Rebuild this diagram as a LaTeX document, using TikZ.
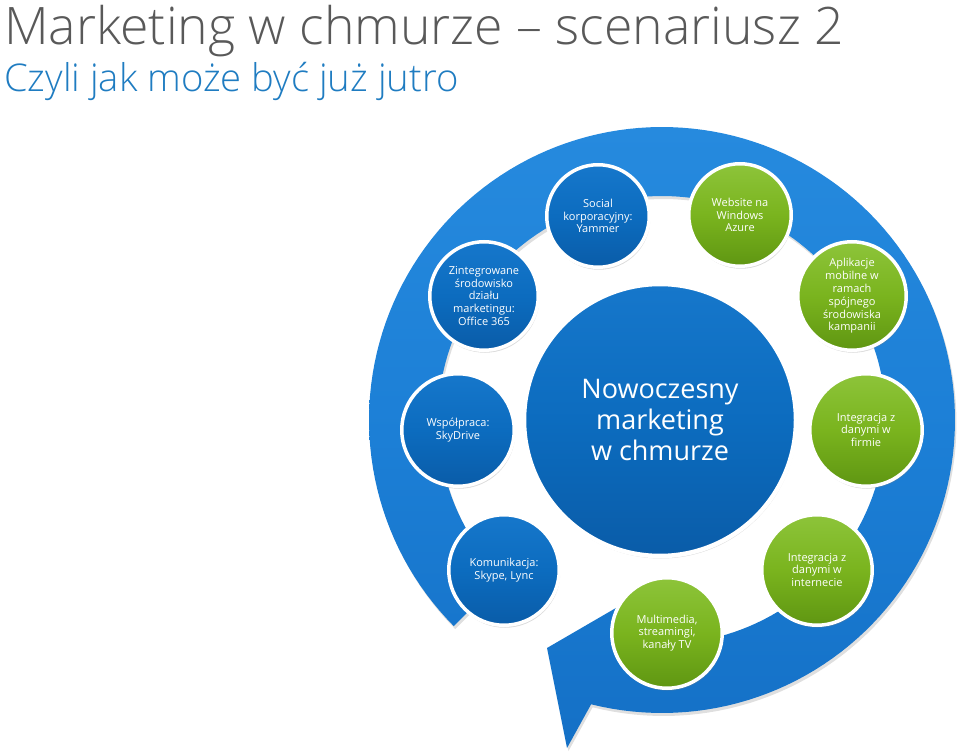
\documentclass[tikz,border=0pt]{standalone}
\usepackage{fontspec}
\setmainfont{Open Sans}
\IfFontExistsTF{Open Sans Light}{\newfontfamily\titlefont{Open Sans Light}}{%
  \IfFontExistsTF{Lato Light}{\newfontfamily\titlefont{Lato Light}}{\newfontfamily\titlefont{Open Sans}}}
\usetikzlibrary{shadows}
\definecolor{ringblue}{HTML}{1C7FD6}
\definecolor{ringtop}{HTML}{268ADE}
\definecolor{ringbot}{HTML}{1470C6}
\definecolor{cblueT}{HTML}{1677CB}
\definecolor{cblueM}{HTML}{0C6CBF}
\definecolor{cblueB}{HTML}{0A5CA8}
\definecolor{cgreenT}{HTML}{8DC43A}
\definecolor{cgreenM}{HTML}{7AB41E}
\definecolor{cgreenB}{HTML}{5F9612}
\definecolor{titlegray}{HTML}{595959}
\definecolor{subblue}{HTML}{1F7CC1}
\begin{document}
\begin{tikzpicture}[x=1pt,y=-1pt,
  bubble/.style={circle, draw=white, line width=3.5pt, text=white, align=center,
    font=\fontsize{11}{12.8}\selectfont, inner sep=0pt,
    drop shadow={opacity=0.28, shadow xshift=1pt, shadow yshift=-2.5pt}},
  bluebub/.style={bubble, top color=cblueT, bottom color=cblueB, middle color=cblueM},
  greenbub/.style={bubble, top color=cgreenT, bottom color=cgreenB, middle color=cgreenM},
  ringstyle/.style={top color=ringtop, bottom color=ringbot, middle color=ringblue,
    drop shadow={opacity=0.25, shadow xshift=1.5pt, shadow yshift=-3pt}},
]
\useasboundingbox (0,0) rectangle (959,754);

% titles
\node[anchor=base west, inner sep=0pt, text=titlegray, font=\titlefont\fontsize{51.7}{52}\selectfont] (title) at (4,45) {Marketing w chmurze – scenariusz 2};
\node[anchor=base west, inner sep=0pt, text=subblue, font=\titlefont\fontsize{38.2}{38}\selectfont] (subtitle) at (4,92) {Czyli jak może być już jutro};

% circular arrow
\path[ringstyle]
  plot[domain=135.3:464, samples=160] ({662+293*cos(\x)},{420+293*sin(\x)})
  -- (567,748) -- (547,648) -- (640,594)
  -- plot[domain=462:135.3, samples=160] ({662+224*cos(\x)},{420+224*sin(\x)})
  -- cycle;

% centre
\node[bluebub, line width=4.5pt, minimum size=272pt, font=\fontsize{27}{31}\selectfont] (core) at (660,420) {Nowoczesny\\marketing\\w chmurze};

% satellites
\node[bluebub, minimum size=108.5pt] (office) at (484,296) {Zintegrowane\\środowisko\\działu\\marketingu:\\Office 365};
\node[bluebub, minimum size=102.5pt] (yammer) at (598,216) {Social\\korporacyjny:\\Yammer};
\node[greenbub, minimum size=102.5pt] (azure) at (740,215) {Website na\\Windows\\Azure};
\node[greenbub, minimum size=108.5pt] (mobile) at (852,296) {Aplikacje\\mobilne w\\ramach\\spójnego\\środowiska\\kampanii};
\node[bluebub, minimum size=112.5pt] (drive) at (458,430) {Współpraca:\\SkyDrive};
\node[greenbub, minimum size=112.5pt] (firm) at (866,430) {Integracja z\\danymi w\\firmie};
\node[bluebub, minimum size=110.5pt] (comm) at (504,570) {Komunikacja:\\Skype, Lync};
\node[greenbub, minimum size=110.5pt] (web) at (817,570) {Integracja z\\danymi w\\internecie};
\node[greenbub, minimum size=110.5pt] (media) at (667,633) {Multimedia,\\streamingi,\\kanały TV};
\end{tikzpicture}
\end{document}
